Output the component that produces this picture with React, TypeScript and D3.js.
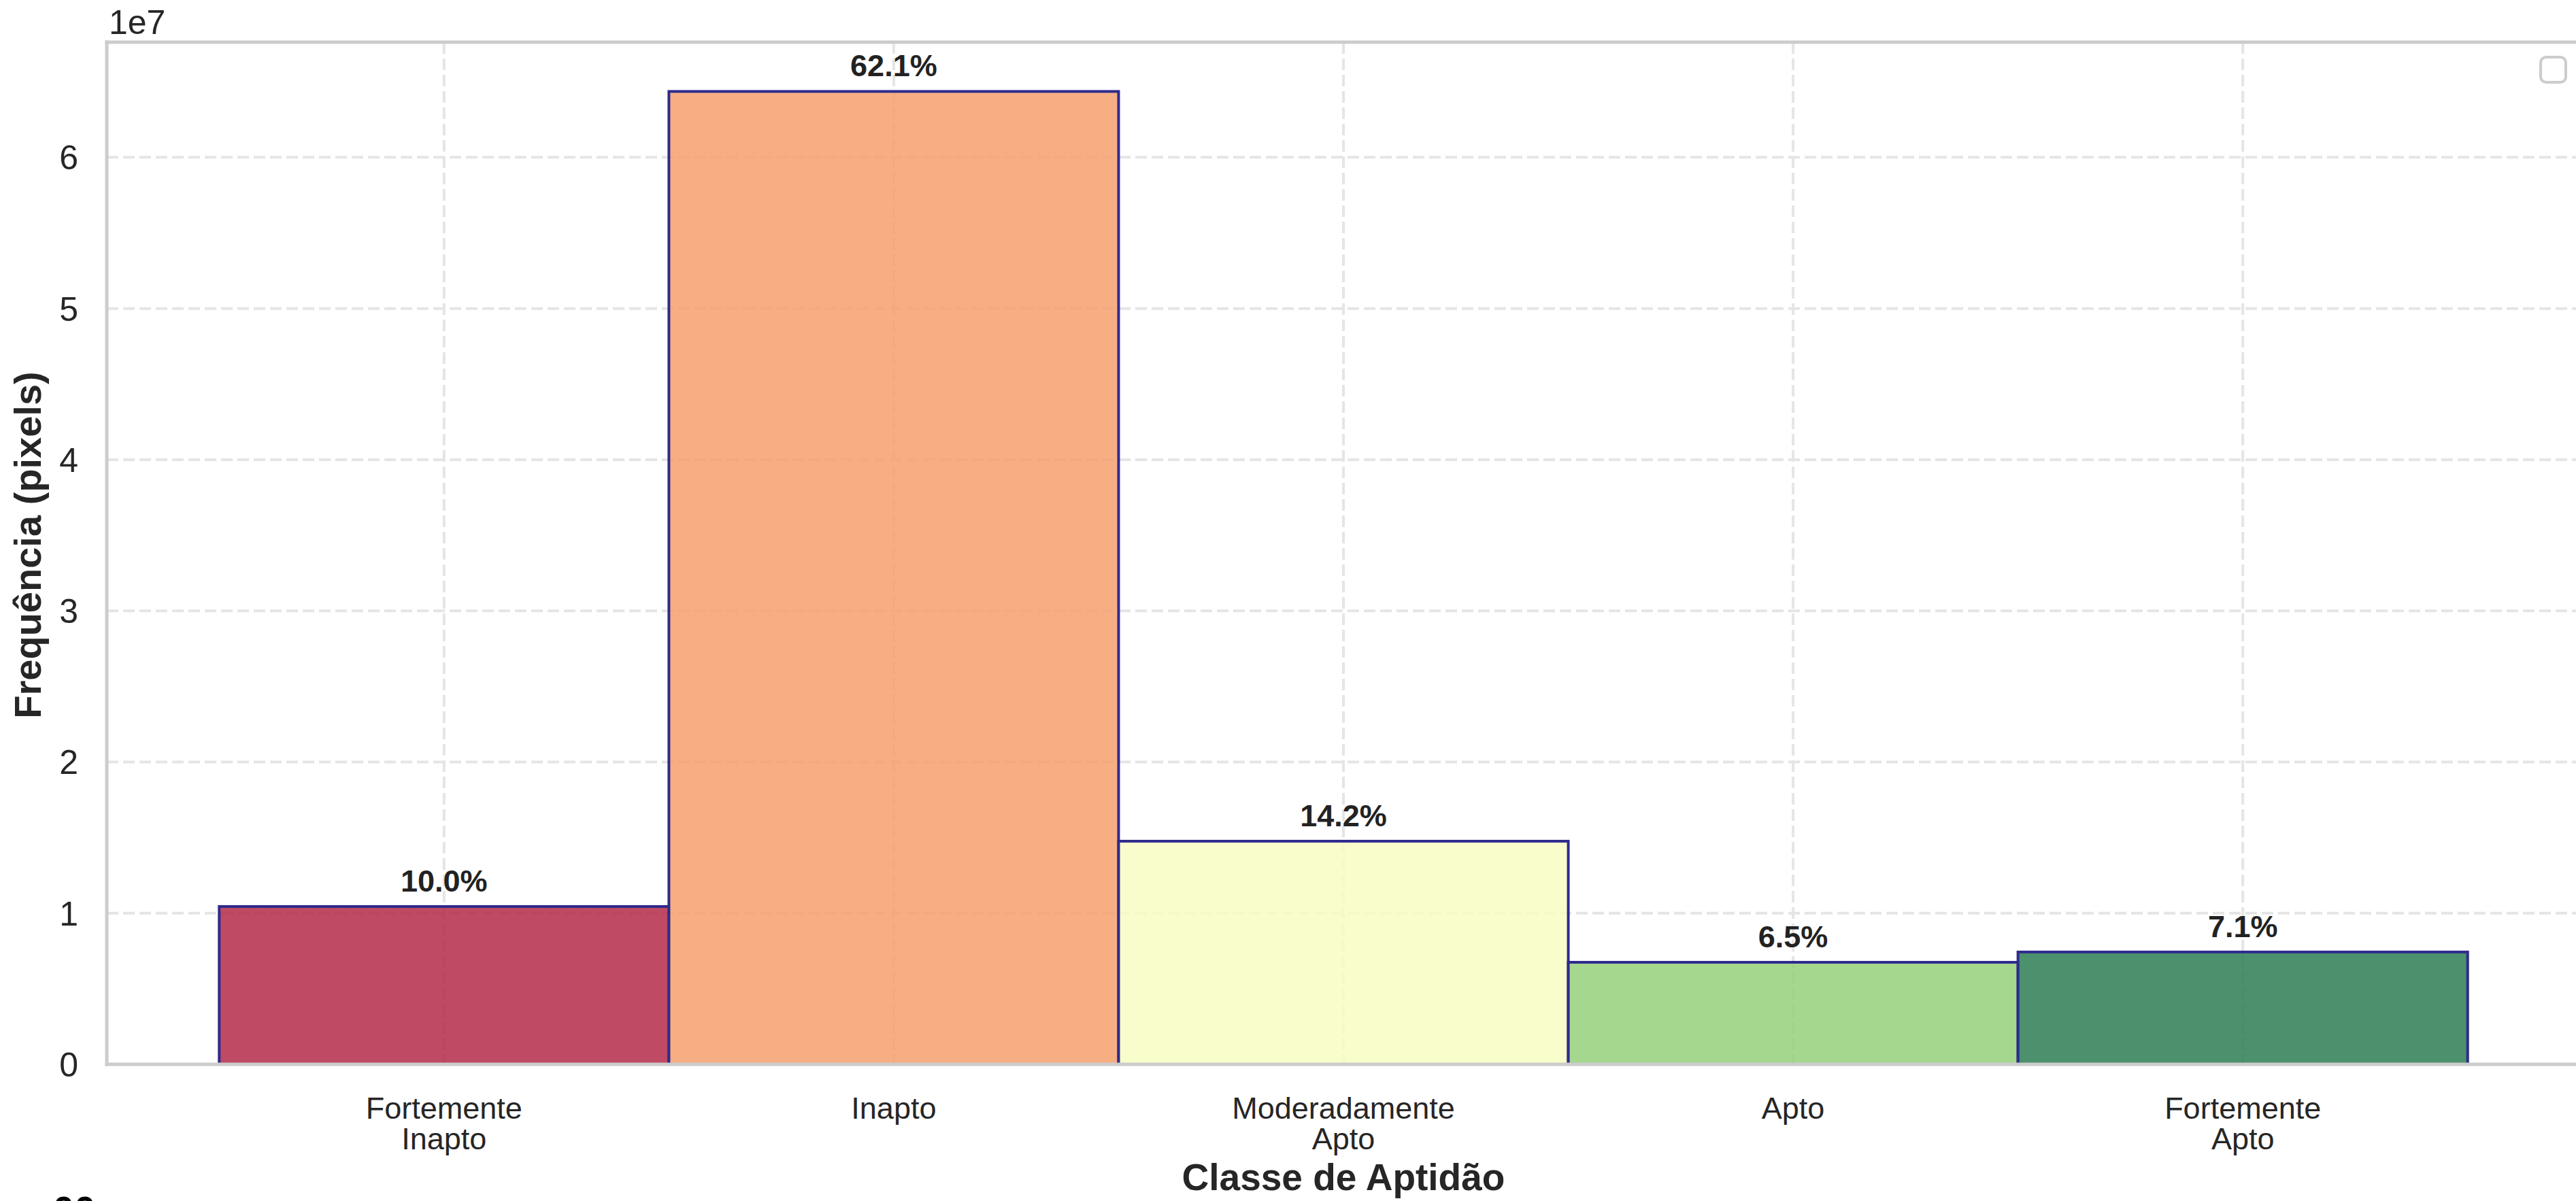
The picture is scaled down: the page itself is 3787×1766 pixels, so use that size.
import React from "react";
import * as d3 from "d3";

const categories: string[][] = [
  ["Fortemente", "Inapto"],
  ["Inapto"],
  ["Moderadamente", "Apto"],
  ["Apto"],
  ["Fortemente", "Apto"],
];
const frequencies: number[] = [1.044e7, 6.436e7, 1.476e7, 0.675e7, 0.743e7];
const percentLabels: string[] = ["10.0%", "62.1%", "14.2%", "6.5%", "7.1%"];
const barColors: string[] = ["#b32b48", "#f6a06c", "#f8fdc2", "#95d07b", "#2b7e54"];
const yTicks: number[] = [0, 1e7, 2e7, 3e7, 4e7, 5e7, 6e7];

const W = 3787;
const H = 1766;
const LEFT = 157;
const RIGHT = 3793;
const TOP = 62;
const BOTTOM = 1565;

export default function App() {
  const x = d3.scaleLinear().domain([-0.75, 4.75]).range([LEFT, RIGHT]);
  const y = d3.scaleLinear().domain([0, 6.762e7]).range([BOTTOM, TOP]);
  const font = "'Liberation Sans', Arial, Helvetica, sans-serif";
  const textColor = "#262626";

  return (
    <svg
      width={W}
      height={H}
      viewBox={`0 0 ${W} ${H}`}
      style={{ position: "absolute", left: 0, top: 0, background: "#fff" }}
      fontFamily={font}
    >
      <rect x={0} y={0} width={W} height={H} fill="#ffffff" />
      {/* grid */}
      <g stroke="#e5e5e5" strokeWidth={4} strokeDasharray="17 7">
        {yTicks.map((t) => (
          <line key={"gy" + t} x1={LEFT} x2={RIGHT} y1={y(t)} y2={y(t)} />
        ))}
        {categories.map((_, i) => (
          <line key={"gx" + i} x1={x(i)} x2={x(i)} y1={TOP} y2={BOTTOM} />
        ))}
      </g>
      {/* bars */}
      <g>
        {frequencies.map((v, i) => (
          <rect
            key={"b" + i}
            x={x(i - 0.5)}
            width={x(i + 0.5) - x(i - 0.5)}
            y={y(v)}
            height={y(0) - y(v)}
            fill={barColors[i]}
            fillOpacity={0.85}
            stroke="#2e2a8c"
            strokeWidth={4}
          />
        ))}
      </g>
      {/* percentage labels */}
      <g fontWeight="bold" fontSize={45} fill="#222" textAnchor="middle">
        {frequencies.map((v, i) => (
          <text key={"p" + i} x={x(i)} y={y(v) - 22}>
            {percentLabels[i]}
          </text>
        ))}
      </g>
      {/* spines */}
      <g stroke="#cccccc" strokeWidth={5} fill="none">
        <line x1={LEFT} x2={LEFT} y1={TOP - 2.5} y2={BOTTOM + 2.5} />
        <line x1={LEFT - 2.5} x2={RIGHT} y1={TOP} y2={TOP} />
        <line x1={LEFT - 2.5} x2={RIGHT} y1={BOTTOM} y2={BOTTOM} />
        <line x1={RIGHT} x2={RIGHT} y1={TOP} y2={BOTTOM} />
      </g>
      {/* y tick labels */}
      <g fontSize={50} fill={textColor} textAnchor="end">
        {yTicks.map((t) => (
          <text key={"yt" + t} x={LEFT - 42} y={y(t)} dy="0.36em">
            {String(t / 1e7)}
          </text>
        ))}
      </g>
      <text x={LEFT + 3} y={50} fontSize={50} fill={textColor}>
        1e7
      </text>
      {/* x tick labels */}
      <g fontSize={45} fill={textColor} textAnchor="middle">
        {categories.map((lines, i) => (
          <text key={"xt" + i} x={x(i)} y={1645}>
            {lines.map((ln, j) => (
              <tspan key={j} x={x(i)} dy={j === 0 ? 0 : 45}>
                {ln}
              </tspan>
            ))}
          </text>
        ))}
      </g>
      {/* axis labels */}
      <text
        x={(LEFT + RIGHT) / 2}
        y={1750}
        fontSize={55}
        fontWeight="bold"
        fill={textColor}
        textAnchor="middle"
      >
        Classe de Aptidão
      </text>
      <text
        transform={`translate(60, ${(TOP + BOTTOM) / 2 - 12}) rotate(-90)`}
        fontSize={56}
        fontWeight="bold"
        fill={textColor}
        textAnchor="middle"
      >
        Frequência (pixels)
      </text>
      {/* empty legend box */}
      <rect x={3735} y={84} width={37} height={37} rx={8} fill="#ffffff" stroke="#cccccc" strokeWidth={4} />
      {/* clipped caption at bottom-left */}
      <text x={78} y={1798} fontSize={56} fontWeight="bold" fill="#000">
        00
      </text>
    </svg>
  );
}
